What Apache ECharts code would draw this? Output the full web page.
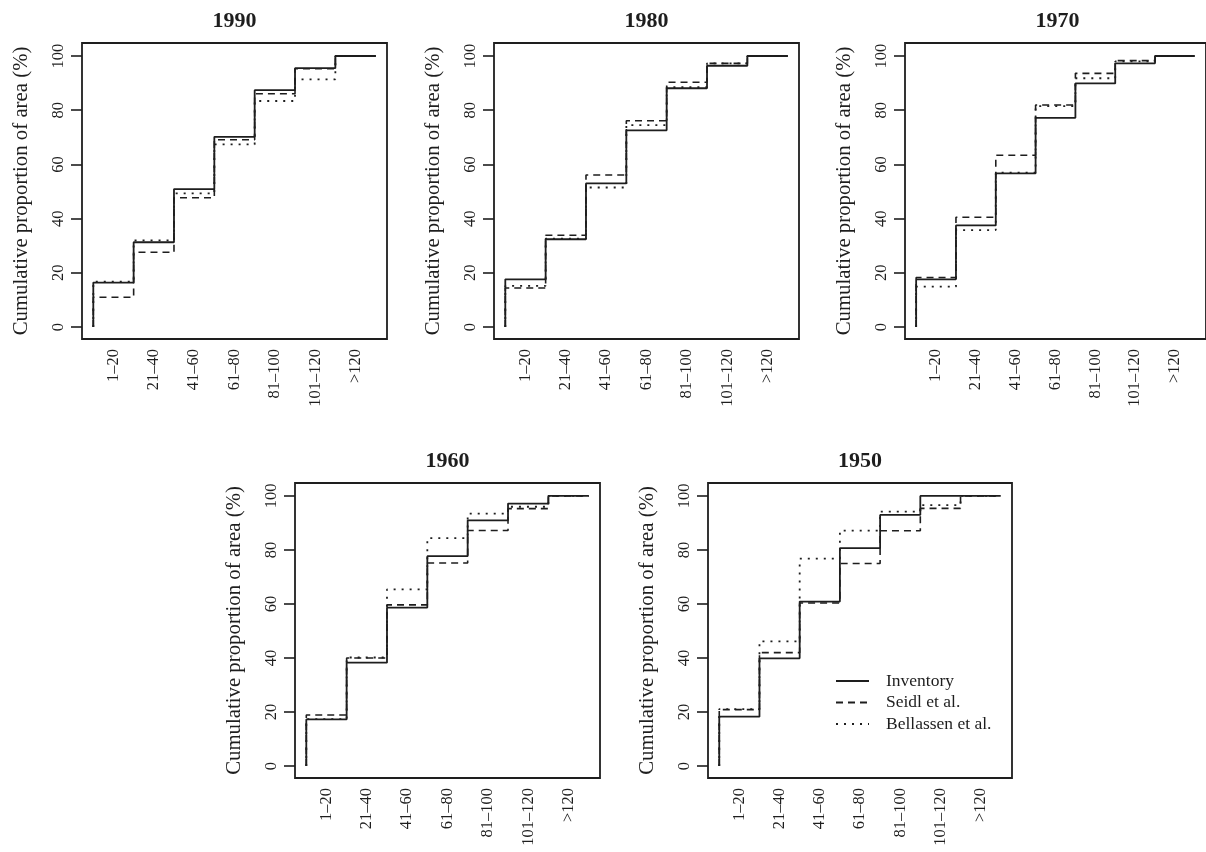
<!DOCTYPE html>
<html>
<head>
<meta charset="utf-8">
<title>Cumulative proportion of area</title>
<script src="https://cdn.jsdelivr.net/npm/echarts@6/dist/echarts.min.js"></script>
<style>
  html, body { margin: 0; padding: 0; background: #fff; }
  #chart { width: 1206px; height: 852px; }
</style>
</head>
<body>
<div id="chart"></div>
<script>
// age classes (years) and axis ticks
const categories = ['1–20', '21–40', '41–60', '61–80', '81–100', '101–120', '>120'];
const categoryTicks = [0.5, 1.5, 2.5, 3.5, 4.5, 5.5, 6.5];
const yTicks = [0, 20, 40, 60, 80, 100];
const years = ['1990', '1980', '1970', '1960', '1950'];
const seriesNames = ['Inventory', 'Seidl et al.', 'Bellassen et al.'];

// cumulative proportion of area (%), one value per age class
const inventory1990 = [16.4, 31.3, 50.9, 70.2, 87.4, 95.5, 100];
const seidl1990 = [11.0, 27.6, 47.7, 69.1, 86.1, 95.3, 100];
const bellassen1990 = [16.8, 32.0, 49.3, 67.4, 83.4, 91.4, 100];

const inventory1980 = [17.6, 32.4, 53.0, 72.6, 88.1, 96.4, 100];
const seidl1980 = [14.4, 33.9, 56.1, 76.1, 90.3, 97.3, 100];
const bellassen1980 = [15.2, 32.6, 51.5, 74.5, 88.5, 97.3, 100];

const inventory1970 = [17.6, 37.5, 56.7, 77.2, 89.9, 97.3, 100];
const seidl1970 = [18.3, 40.5, 63.4, 81.9, 93.6, 98.3, 100];
const bellassen1970 = [14.9, 35.8, 57.0, 81.5, 91.8, 98.0, 100];

const inventory1960 = [17.3, 38.3, 58.7, 77.7, 91.0, 97.2, 100];
const seidl1960 = [18.9, 40.0, 59.7, 75.2, 87.2, 95.3, 100];
const bellassen1960 = [17.4, 40.2, 65.4, 84.4, 93.5, 96.0, 100];

const inventory1950 = [18.3, 39.9, 60.9, 80.7, 93.0, 100, 100];
const seidl1950 = [20.9, 42.0, 60.4, 75.0, 87.1, 95.4, 100];
const bellassen1950 = [21.1, 46.2, 76.8, 87.2, 94.2, 96.6, 100];

const panelData = [
  [inventory1990, seidl1990, bellassen1990],
  [inventory1980, seidl1980, bellassen1980],
  [inventory1970, seidl1970, bellassen1970],
  [inventory1960, seidl1960, bellassen1960],
  [inventory1950, seidl1950, bellassen1950]
];

// plot boxes in pixels
const boxes = [
  { left: 82, top: 43, width: 305, height: 296 },
  { left: 494, top: 43, width: 305, height: 296 },
  { left: 905, top: 43, width: 305, height: 296 },
  { left: 295, top: 483, width: 305, height: 295 },
  { left: 708, top: 483, width: 304, height: 295 }
];

const serif = 'Liberation Serif';
const ink = '#1e1e1e';
const lineStyles = [
  { type: 'solid', width: 1.8 },
  { type: [7, 5], width: 1.6 },
  { type: [2, 6], width: 1.8 }
];

// step curve: starts at 0 at the left edge of the first class
function stepPoints(values) {
  const pts = [[0, 0]];
  values.forEach((v, i) => pts.push([i + 1, v]));
  return pts;
}

const grid = [];
const xAxis = [];
const yAxis = [];
const series = [];
const graphic = [];

boxes.forEach((b, p) => {
  grid.push({
    left: b.left, top: b.top, width: b.width, height: b.height,
    show: true, borderColor: ink, borderWidth: 1.8
  });

  xAxis.push({
    type: 'value', gridIndex: p, min: -0.28, max: 7.28,
    axisLine: { show: false, onZero: false },
    axisTick: { show: false },
    splitLine: { show: false },
    axisLabel: {
      customValues: categoryTicks,
      formatter: v => categories[Math.round(v - 0.5)],
      rotate: 90, margin: 10,
      fontFamily: serif, fontSize: 16.5, color: ink
    }
  });

  yAxis.push({
    type: 'value', gridIndex: p, min: -4.4, max: 104.8,
    name: 'Cumulative proportion of area (%)',
    nameLocation: 'middle', nameGap: 50,
    nameTextStyle: { fontFamily: serif, fontSize: 20.8, color: ink },
    axisLine: { show: false, onZero: false },
    splitLine: { show: false },
    axisTick: {
      customValues: yTicks, length: 11,
      lineStyle: { color: ink, width: 1.6 }
    },
    axisLabel: {
      customValues: yTicks, rotate: 90, margin: 15,
      fontFamily: serif, fontSize: 16.5, color: ink
    }
  });

  panelData[p].forEach((vals, s) => {
    series.push({
      name: seriesNames[s],
      type: 'line',
      step: 'start',
      xAxisIndex: p, yAxisIndex: p,
      symbol: 'none',
      lineStyle: Object.assign({ color: ink }, lineStyles[s]),
      itemStyle: { color: ink },
      data: stepPoints(vals),
      z: 3 + s
    });
  });

  graphic.push({
    type: 'text',
    x: b.left + b.width / 2,
    y: b.top - 22,
    style: {
      text: years[p],
      textAlign: 'center', textVerticalAlign: 'middle',
      font: 'bold 22px "' + serif + '"', fill: ink
    }
  });
});

const chart = echarts.init(document.getElementById('chart'));
chart.setOption({
  backgroundColor: '#fff',
  animation: false,
  grid, xAxis, yAxis, series, graphic,
  legend: {
    data: seriesNames,
    orient: 'vertical',
    left: 835, top: 672,
    padding: 0,
    itemWidth: 33, itemHeight: 14, itemGap: 3.5,
    itemStyle: { color: 'transparent', borderWidth: 0 },
    textStyle: { fontFamily: serif, fontSize: 17.5, color: ink, padding: [0, 0, 0, 12] }
  }
});
</script>
</body>
</html>
